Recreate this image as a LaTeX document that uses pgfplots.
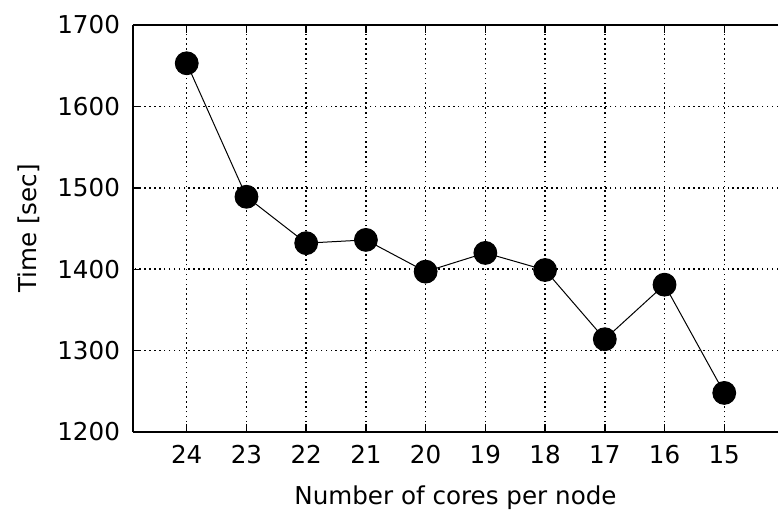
\documentclass[border=0pt]{standalone}
\usepackage{pgfplots}
\pgfplotsset{compat=1.18}
\usepackage{fontspec}
\setmainfont{DejaVu Sans}
\begin{document}
\begin{tikzpicture}
\begin{axis}[
  scale only axis,
  width=322.5pt, height=203.5pt,
  x dir=reverse,
  xmin=14.1, xmax=24.9,
  ymin=1200, ymax=1700,
  xtick={15,16,...,24},
  ytick={1200,1300,...,1700},
  axis x line*=box,
  axis y line*=left,
  axis line style={line width=1.2pt, -},
  tick style={black, line width=0.7pt},
  tick align=inside,
  major tick length=4pt,
  xtick pos=both,
  ytick pos=left,
  grid=major,
  major grid style={black, line width=0.75pt, dash pattern=on 0.75pt off 1.7pt},
  /pgf/number format/assume math mode=true,
  /pgf/number format/1000 sep={},
  tick label style={font=\fontsize{12.3}{14}\selectfont},
  label style={font=\fontsize{12.3}{14}\selectfont},
  xlabel={Number of cores per node},
  ylabel={Time [sec]},
  xticklabel style={yshift=-3pt},
  yticklabel style={xshift=-3pt},
  xlabel style={yshift=-4pt},
  ylabel style={yshift=2pt},
]
\addplot[black, line width=0.5pt, mark=*, mark size=5.7pt, mark options={fill=black}]
coordinates {
(24,1653) (23,1489) (22,1432) (21,1436) (20,1397) (19,1420) (18,1399) (17,1314) (16,1381) (15,1248)
};
\end{axis}
\pgfresetboundingbox
\path ([xshift=-66.5pt,yshift=-38.5pt]current axis.south west) rectangle ([xshift=0.5pt,yshift=12.5pt]current axis.north east);
\end{tikzpicture}
\end{document}
